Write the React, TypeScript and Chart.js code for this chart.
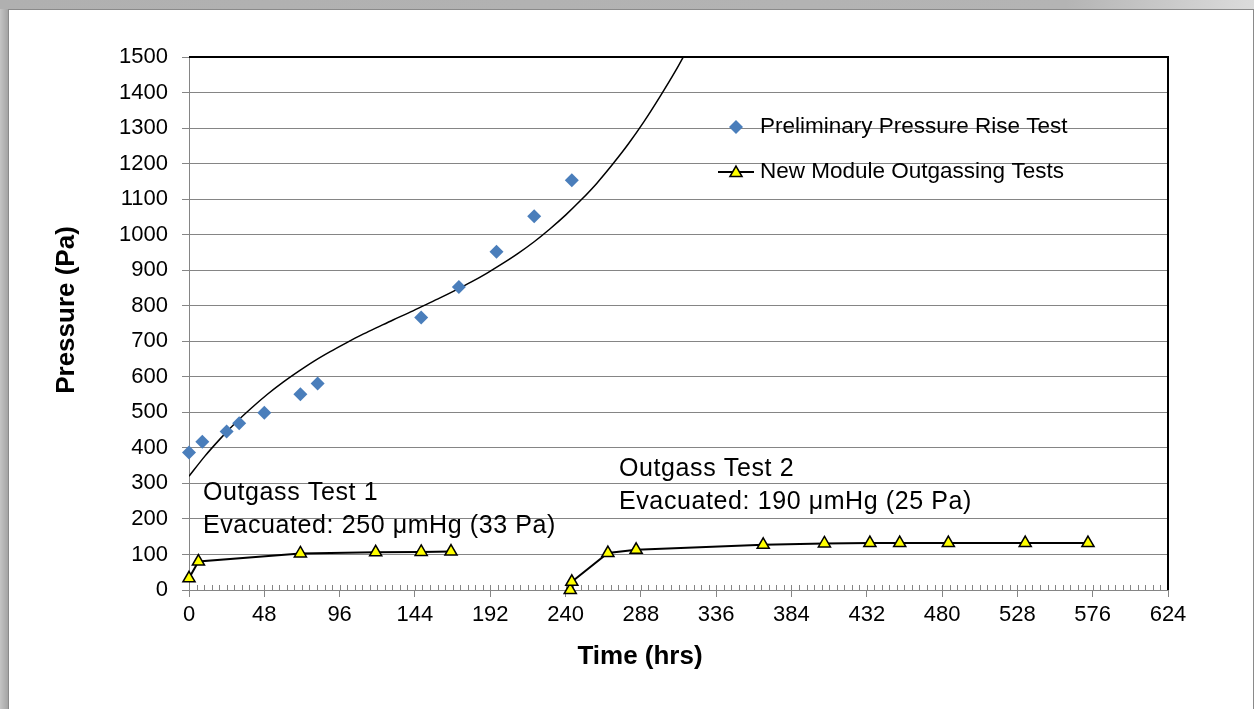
import React, { useEffect, useRef } from "react";
import { Chart, registerables } from "chart.js";

Chart.register(...registerables);

// ---- Data ----
const prelimHours = [0, 8.5, 24, 32, 48, 71, 82, 148, 172, 196, 220, 244];
const prelimPressure = [387, 417, 446, 469, 499, 551, 581, 767, 853, 952, 1052, 1153];

const trendHours = [0, 10, 20, 30, 40, 50, 60, 70, 80, 90, 100, 110, 120, 130, 140, 150, 160, 170, 180, 190, 200, 210, 220, 230, 240, 250, 260, 270, 280, 290, 300, 310, 320];
const trendPressure = [320, 376, 426, 472, 513, 551, 585, 616, 645, 671, 695, 718, 739, 760, 780, 801, 822, 844, 867, 892, 919, 948, 980, 1016, 1055, 1098, 1145, 1198, 1255, 1318, 1387, 1460, 1540];

const test1Hours = [0, 6, 71, 119, 148, 167];
const test1Pressure = [33, 80, 103, 106, 107, 108];
const test2Hours = [243, 244, 267, 285, 366, 405, 434, 453, 484, 533, 573];
const test2Pressure = [0, 23, 104, 113, 127, 131, 132, 132, 132, 132, 132];

const xMin = 0;
const xMax = 624;
const xStep = 48;
const xMinorDivisions = 10;
const yMin = 0;
const yMax = 1500;
const yStep = 100;

const legendLabels = ["Preliminary Pressure Rise Test", "New Module Outgassing Tests"];
const test1Notes = ["Outgass Test 1", "Evacuated: 250 \u03bcmHg (33 Pa)"];
const test2Notes = ["Outgass Test 2", "Evacuated: 190 \u03bcmHg (25 Pa)"];
const xTitle = "Time (hrs)";
const yTitle = "Pressure (Pa)";

// ---- Styles ----
const FONT = '"Liberation Sans", Arial, Helvetica, sans-serif';
const GRID = "#858585";
const BLUE = "#4A7EBB";
const YELLOW = "#FFFF00";

const toPts = (xs: number[], ys: number[]) => xs.map((x, i) => ({ x, y: ys[i] }));

function drawTriangle(ctx: CanvasRenderingContext2D, x: number, y: number, r: number) {
  ctx.beginPath();
  for (let k = 0; k < 3; k++) {
    const a = (k * 2 * Math.PI) / 3;
    const px = x + Math.sin(a) * r;
    const py = y - Math.cos(a) * r;
    if (k === 0) ctx.moveTo(px, py);
    else ctx.lineTo(px, py);
  }
  ctx.closePath();
  ctx.fillStyle = YELLOW;
  ctx.fill();
  ctx.lineWidth = 1.5;
  ctx.strokeStyle = "#000";
  ctx.stroke();
}

const decorPlugin = {
  id: "decor",
  beforeDatasetsDraw(chart: any) {
    const { ctx, chartArea: a, scales } = chart;
    const x = scales.x;
    ctx.save();
    // minor + inner major tick marks on x axis
    ctx.strokeStyle = GRID;
    ctx.lineWidth = 1;
    ctx.beginPath();
    const minorStep = xStep / xMinorDivisions;
    const n = Math.round((xMax - xMin) / minorStep);
    for (let i = 0; i <= n; i++) {
      const v = xMin + i * minorStep;
      const px = Math.round(x.getPixelForValue(v)) + 0.5;
      ctx.moveTo(px, a.bottom - 5);
      ctx.lineTo(px, a.bottom);
    }
    ctx.stroke();
    // plot-area border (top and right)
    ctx.strokeStyle = "#000";
    ctx.lineWidth = 2;
    ctx.beginPath();
    ctx.moveTo(a.left, a.top);
    ctx.lineTo(a.right, a.top);
    ctx.lineTo(a.right, a.bottom);
    ctx.stroke();
    ctx.restore();
  },
  afterDraw(chart: any) {
    const { ctx, chartArea: a } = chart;
    ctx.save();
    ctx.fillStyle = "#000";
    // legend
    ctx.font = `22.5px ${FONT}`;
    ctx.textBaseline = "middle";
    ctx.textAlign = "left";
    const lx = a.left + 547;
    const ly1 = a.top + 70;
    const ly2 = a.top + 115;
    ctx.fillStyle = BLUE;
    ctx.beginPath();
    ctx.moveTo(lx - 7, ly1);
    ctx.lineTo(lx, ly1 - 7);
    ctx.lineTo(lx + 7, ly1);
    ctx.lineTo(lx, ly1 + 7);
    ctx.closePath();
    ctx.fill();
    ctx.fillStyle = "#000";
    ctx.fillText(legendLabels[0], lx + 24, ly1);
    ctx.strokeStyle = "#000";
    ctx.lineWidth = 2;
    ctx.beginPath();
    ctx.moveTo(lx - 18, ly2);
    ctx.lineTo(lx + 18, ly2);
    ctx.stroke();
    drawTriangle(ctx, lx, ly2 + 1, 7);
    ctx.fillStyle = "#000";
    ctx.fillText(legendLabels[1], lx + 24, ly2);

    // annotations
    ctx.font = `25px ${FONT}`;
    (ctx as any).letterSpacing = "0.6px";
    ctx.textBaseline = "alphabetic";
    ctx.fillText(test1Notes[0], a.left + 14, 500);
    ctx.fillText(test1Notes[1], a.left + 14, 533);
    ctx.fillText(test2Notes[0], a.left + 430, 476);
    ctx.fillText(test2Notes[1], a.left + 430, 509);
    (ctx as any).letterSpacing = "0px";

    // axis titles
    ctx.font = `bold 26px ${FONT}`;
    ctx.textAlign = "center";
    ctx.textBaseline = "middle";
    ctx.fillText(xTitle, 640, 657);
    ctx.save();
    ctx.translate(67, 310);
    ctx.rotate(-Math.PI / 2);
    ctx.fillText(yTitle, 0, 0);
    ctx.restore();
    ctx.restore();
  },
};

export default function App() {
  const ref = useRef<HTMLCanvasElement>(null);
  useEffect(() => {
    const canvas = ref.current!;
    const triangleDataset = (data: any[]) => ({
      label: legendLabels[1],
      data,
      showLine: true,
      borderColor: "#000",
      borderWidth: 2,
      pointStyle: "triangle",
      pointRadius: 7,
      pointBackgroundColor: YELLOW,
      pointBorderColor: "#000",
      pointBorderWidth: 1.5,
      clip: false,
    });
    const chart = new Chart(canvas, {
      type: "scatter",
      data: {
        datasets: [
          triangleDataset(toPts(test1Hours, test1Pressure)),
          triangleDataset(toPts(test2Hours, test2Pressure)),
          {
            label: legendLabels[0],
            data: toPts(prelimHours, prelimPressure),
            pointStyle: "rectRot",
            pointRadius: 7,
            backgroundColor: BLUE,
            borderColor: BLUE,
            pointBorderWidth: 0,
            showLine: false,
            clip: false,
          },
          {
            label: "Trend",
            data: toPts(trendHours, trendPressure),
            showLine: true,
            pointRadius: 0,
            borderColor: "#000",
            borderWidth: 1.5,
            cubicInterpolationMode: "monotone",
          },
        ],
      } as any,
      options: {
        responsive: false,
        animation: false,
        events: [],
        layout: { padding: { left: 0, top: 57, right: 86, bottom: 0 } },
        plugins: { legend: { display: false }, tooltip: { enabled: false } },
        scales: {
          x: {
            type: "linear",
            min: xMin,
            max: xMax,
            afterFit: (s: any) => {
              s.height = 119;
            },
            ticks: {
              stepSize: xStep,
              padding: 5,
              color: "#000",
              maxRotation: 0,
              autoSkip: false,
              font: { family: FONT, size: 22 },
              callback: (v: any) => String(v),
            },
            grid: { drawOnChartArea: false, drawTicks: true, tickLength: 7, color: GRID },
            border: { color: GRID, width: 1 },
          },
          y: {
            min: yMin,
            max: yMax,
            afterFit: (s: any) => {
              s.width = 189;
            },
            ticks: {
              stepSize: yStep,
              padding: 14,
              color: "#000",
              font: { family: FONT, size: 22 },
              callback: (v: any) => String(v),
            },
            grid: { color: GRID, tickLength: 7 },
            border: { color: GRID, width: 1 },
          },
        },
      } as any,
      plugins: [decorPlugin],
    });
    return () => chart.destroy();
  }, []);

  return (
    <div style={{ position: "absolute", left: 0, top: 0, width: 1254, height: 709, background: "#fff", overflow: "hidden" }}>
      <div style={{ position: "absolute", left: 0, top: 0, width: 8, height: 709, background: "linear-gradient(to right, #c4c4c4, #a4a4a4)" }} />
      <div style={{ position: "absolute", left: 0, top: 0, width: 1254, height: 9, background: "linear-gradient(to right, #b0b0b0, #b4b4b4 85%, #dcdcdc)" }} />
      <div
        style={{
          position: "absolute",
          left: 8,
          top: 9,
          width: 1244,
          height: 700,
          background: "#fff",
          borderLeft: "1px solid #8a8a8a",
          borderTop: "1px solid #8a8a8a",
          borderRight: "1px solid #8a8a8a",
        }}
      />
      <canvas
        ref={ref}
        width={1254}
        height={709}
        style={{ position: "absolute", left: 0, top: 0, width: 1254, height: 709 }}
      />
    </div>
  );
}
